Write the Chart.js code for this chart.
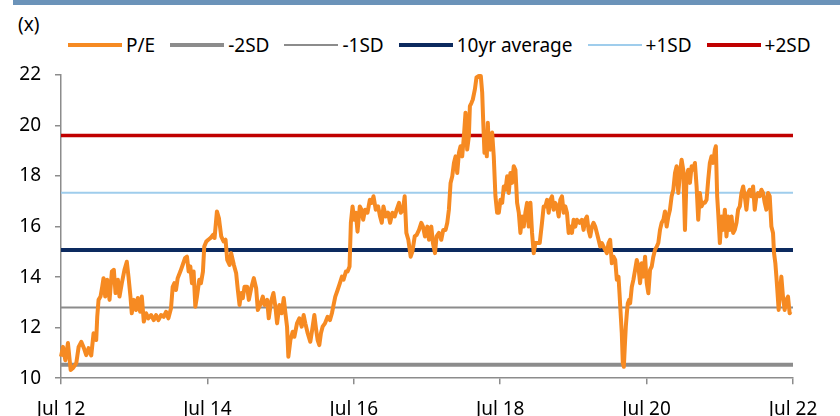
<!DOCTYPE html>
<html lang="en">
<head>
<meta charset="UTF-8">
<title>P/E band</title>
<style>
    body { margin: 0; overflow: hidden; background: #fff; font-family: "Noto Sans", sans-serif; color: #000; }
    .wrap { position: relative; width: 840px; height: 416px; overflow: hidden; }
    .topbar { position: absolute; left: 13px; top: 0; width: 827px; height: 5px; background: #6b93b9; }
    .unit { position: absolute; left: 18px; top: 11px; font-size: 19px; }
    .legend { position: absolute; left: 68px; top: 32px; display: flex; align-items: center; font-size: 19px; white-space: nowrap; }
    .legend .item { display: flex; align-items: center; margin-right: 15px; }
    .legend .swatch { width: 54px; margin-right: 4px; }
    .chartbox { position: absolute; left: 0; top: 0; width: 840px; height: 435px; }
</style>
<script src="https://cdn.jsdelivr.net/npm/chart.js"></script>
</head>
<body>
<div class="wrap">
    <div class="topbar"></div>
    <div class="unit">(x)</div>
    <div class="legend" id="legend"></div>
    <div class="chartbox"><canvas id="peChart"></canvas></div>
</div>
<script>
// P/E readings, decimal years
const peDates = [
    2012.500, 2012.527, 2012.559, 2012.595, 2012.632, 2012.663, 2012.709, 2012.741, 2012.777, 2012.813,
    2012.845, 2012.877, 2012.913, 2012.945, 2012.981, 2012.995, 2013.013, 2013.040, 2013.063, 2013.081,
    2013.104, 2013.131, 2013.163, 2013.195, 2013.222, 2013.245, 2013.277, 2013.299, 2013.331, 2013.367,
    2013.399, 2013.422, 2013.449, 2013.467, 2013.495, 2013.526, 2013.549, 2013.581, 2013.604, 2013.631,
    2013.663, 2013.694, 2013.731, 2013.767, 2013.799, 2013.831, 2013.867, 2013.903, 2013.935, 2013.967,
    2014.003, 2014.026, 2014.049, 2014.071, 2014.094, 2014.130, 2014.162, 2014.194, 2014.221, 2014.244,
    2014.267, 2014.289, 2014.312, 2014.335, 2014.357, 2014.389, 2014.412, 2014.439, 2014.457, 2014.485,
    2014.512,
    2014.544, 2014.576, 2014.598, 2014.630, 2014.657, 2014.689, 2014.721, 2014.748, 2014.771, 2014.803,
    2014.825, 2014.862, 2014.893, 2014.916, 2014.939, 2014.962, 2014.984, 2015.007, 2015.043, 2015.066,
    2015.098, 2015.134, 2015.166, 2015.189, 2015.220, 2015.257, 2015.279, 2015.316, 2015.338, 2015.370,
    2015.402, 2015.429, 2015.452, 2015.484, 2015.516, 2015.543, 2015.566, 2015.588, 2015.606, 2015.634,
    2015.665, 2015.688, 2015.724, 2015.756, 2015.788, 2015.815, 2015.838, 2015.870, 2015.906, 2015.938,
    2015.961, 2015.983, 2016.006, 2016.029, 2016.051, 2016.074, 2016.106, 2016.142, 2016.174, 2016.201,
    2016.224, 2016.247, 2016.279, 2016.310, 2016.338, 2016.360, 2016.392, 2016.415, 2016.442, 2016.460,
    2016.483,
    2016.505, 2016.528, 2016.551, 2016.582, 2016.605, 2016.628, 2016.655, 2016.687, 2016.719, 2016.746,
    2016.769, 2016.800, 2016.832, 2016.859, 2016.882, 2016.905, 2016.937, 2016.968, 2016.996, 2017.027,
    2017.059, 2017.086, 2017.118, 2017.141, 2017.173, 2017.195, 2017.218, 2017.245, 2017.277, 2017.300,
    2017.332, 2017.359, 2017.391, 2017.422, 2017.445, 2017.472, 2017.504, 2017.527, 2017.559, 2017.581,
    2017.609, 2017.631, 2017.663, 2017.695, 2017.722, 2017.754, 2017.777, 2017.799, 2017.822, 2017.845,
    2017.868, 2017.890, 2017.913, 2017.936, 2017.958, 2017.981, 2018.004, 2018.026, 2018.049, 2018.072,
    2018.086, 2018.108, 2018.126, 2018.154, 2018.176, 2018.208, 2018.235, 2018.254, 2018.267, 2018.285,
    2018.299, 2018.317, 2018.331, 2018.344, 2018.367, 2018.390, 2018.412, 2018.435, 2018.458,
    2018.481, 2018.504, 2018.527, 2018.549, 2018.572, 2018.595, 2018.617, 2018.640, 2018.663, 2018.685,
    2018.708, 2018.731, 2018.754, 2018.776, 2018.799, 2018.822, 2018.844, 2018.867, 2018.890, 2018.913,
    2018.935, 2018.958, 2018.981, 2019.003, 2019.040, 2019.071, 2019.094, 2019.117, 2019.140, 2019.162,
    2019.185, 2019.208, 2019.230, 2019.253, 2019.276, 2019.299, 2019.321, 2019.344, 2019.367, 2019.389,
    2019.412, 2019.435, 2019.458, 2019.480, 2019.503, 2019.526, 2019.548, 2019.585, 2019.616, 2019.639,
    2019.662, 2019.685, 2019.707, 2019.730, 2019.753, 2019.775, 2019.798, 2019.821, 2019.844, 2019.866,
    2019.889, 2019.912, 2019.934, 2019.957, 2019.980, 2020.002, 2020.025, 2020.048, 2020.071, 2020.093,
    2020.116, 2020.130, 2020.148, 2020.161, 2020.175, 2020.189, 2020.202, 2020.216, 2020.230, 2020.243,
    2020.261, 2020.275, 2020.298, 2020.320, 2020.343, 2020.366, 2020.388,
    2020.411, 2020.433, 2020.456, 2020.479, 2020.502, 2020.524, 2020.547, 2020.570, 2020.592, 2020.615,
    2020.638, 2020.660, 2020.683, 2020.706, 2020.729, 2020.751, 2020.774, 2020.797, 2020.819, 2020.842,
    2020.865, 2020.888, 2020.910, 2020.933, 2020.956, 2020.978, 2021.001, 2021.024, 2021.046, 2021.069,
    2021.092, 2021.115, 2021.137, 2021.160, 2021.183, 2021.205, 2021.228, 2021.251, 2021.274, 2021.296,
    2021.319, 2021.342, 2021.364, 2021.387, 2021.410, 2021.433, 2021.446, 2021.464, 2021.478, 2021.501,
    2021.523, 2021.546, 2021.569, 2021.591, 2021.614, 2021.637, 2021.660, 2021.682, 2021.705, 2021.728,
    2021.750, 2021.773, 2021.796, 2021.819, 2021.841, 2021.864, 2021.887, 2021.909, 2021.932, 2021.955,
    2021.977, 2022.000, 2022.023, 2022.046, 2022.068, 2022.091, 2022.114, 2022.136, 2022.159, 2022.182,
    2022.205, 2022.227, 2022.241, 2022.259, 2022.273, 2022.286, 2022.304, 2022.323, 2022.341, 2022.363,
    2022.386, 2022.409, 2022.432, 2022.454, 2022.468
];

const peValues = [
    10.85, 11.24, 10.71, 11.39, 10.32, 10.40, 10.60, 11.24, 11.44, 11.19,
    10.91, 11.19, 10.90, 11.78, 11.51, 12.43, 13.10, 13.23, 13.62, 13.96,
    13.23, 13.90, 13.10, 14.22, 14.29, 13.37, 13.90, 13.23, 13.76, 14.29,
    14.61, 14.02, 13.23, 12.57, 13.10, 12.70, 13.17, 12.63, 13.23, 12.24,
    12.57, 12.37, 12.50, 12.30, 12.50, 12.30, 12.50, 12.43, 12.63, 12.37,
    12.77, 13.62, 13.76, 13.49, 13.96, 14.22, 14.48, 14.75, 14.81, 14.22,
    14.42, 13.76, 14.22, 12.83, 13.23, 13.90, 13.76, 14.22, 15.21, 15.41,
    15.48,
    15.55, 15.67, 15.55, 16.60, 16.34, 15.61, 15.41, 15.48, 14.68, 14.48,
    14.95, 14.48, 14.15, 13.49, 12.90, 13.37, 13.17, 13.62, 13.62, 13.10,
    13.56, 13.96, 13.56, 12.70, 12.90, 13.23, 12.90, 13.10, 12.37, 13.03,
    13.37, 12.83, 12.17, 12.90, 12.57, 13.17, 12.57, 12.04, 10.85, 11.51,
    11.84, 11.64, 12.17, 12.37, 12.04, 12.50, 12.17, 11.78, 11.44, 12.04,
    12.50, 11.98, 11.51, 11.31, 11.78, 12.04, 12.17, 12.43, 12.30, 12.57,
    12.90, 13.23, 13.49, 13.76, 14.02, 13.90, 14.22, 14.22, 14.42, 16.15,
    16.80,
    16.27, 16.55, 15.80, 16.80, 16.67, 16.27, 16.67, 16.55, 17.06, 16.94,
    17.20, 16.67, 16.80, 16.40, 16.15, 16.80, 16.40, 16.55, 16.15, 16.55,
    16.40, 16.67, 16.94, 16.55, 16.67, 17.20, 15.75, 15.48, 14.81, 15.01,
    15.61, 15.67, 15.87, 16.15, 16.00, 15.61, 16.00, 15.48, 16.00, 15.35,
    14.95, 15.61, 15.75, 15.48, 15.87, 15.87, 16.15, 16.67, 17.73, 17.99,
    18.52, 18.78, 18.12, 18.92, 19.18, 18.78, 19.58, 20.51, 19.05, 19.58,
    20.77, 20.90, 21.03, 21.43, 21.90, 21.96, 21.96, 21.30, 20.24, 18.92,
    19.58, 18.78, 20.11, 19.18, 19.05, 19.72, 18.78, 17.20, 16.55,
    16.55, 17.06, 16.94, 17.59, 17.46, 17.99, 17.33, 18.12, 17.73, 18.39,
    18.25, 16.94, 16.55, 15.75, 16.40, 16.00, 16.55, 16.94, 16.00, 16.94,
    15.75, 14.95, 15.35, 15.35, 15.35, 16.15, 16.80, 16.80, 17.06, 16.55,
    17.06, 17.20, 16.67, 16.94, 16.80, 16.40, 17.06, 17.20, 16.55, 16.80,
    16.55, 15.75, 16.00, 15.75, 16.27, 16.00, 16.27, 16.15, 16.27, 15.87,
    16.27, 16.40, 15.87, 15.61, 16.00, 16.15, 16.00, 15.75, 15.48, 15.21,
    15.35, 15.21, 15.08, 14.95, 15.35, 15.48, 14.55, 14.81, 14.68, 13.90,
    14.02, 13.36, 12.43, 11.78, 10.60, 10.45, 11.24, 12.04, 12.57, 12.96,
    13.10, 12.96, 13.62, 13.90, 14.29, 14.68, 14.42,
    13.76, 14.55, 14.02, 14.81, 13.76, 13.36, 14.29, 14.42, 14.81, 15.08,
    15.21, 15.35, 15.87, 16.15, 16.27, 16.60, 16.00, 16.40, 16.67, 17.20,
    17.46, 18.12, 18.39, 17.33, 18.12, 18.65, 18.25, 15.87, 17.99, 18.25,
    17.73, 18.39, 18.25, 18.52, 17.59, 16.27, 17.33, 16.80, 16.94, 16.94,
    17.06, 17.86, 18.52, 18.78, 18.52, 19.05, 19.18, 17.20, 16.55, 15.35,
    16.40, 15.87, 16.67, 15.61, 16.40, 15.87, 16.40, 15.75, 15.87, 16.15,
    16.67, 16.80, 17.33, 17.59, 17.20, 16.67, 17.33, 17.46, 17.20, 17.59,
    16.67, 17.20, 17.33, 17.20, 17.46, 17.33, 16.94, 16.67, 17.33, 17.20,
    16.00, 15.75, 14.95, 14.55, 14.02, 13.49, 12.70, 13.49, 14.02, 13.23,
    12.70, 13.10, 13.23, 12.57, 12.63
];

// band levels (10yr mean and +/- standard deviations)
const bandNames = ['-2SD', '-1SD', '10yr average', '+1SD', '+2SD'];
const bandLevels = [10.53, 12.80, 15.07, 17.34, 19.61];

const xTickYears = [12, 14, 16, 18, 20, 22];
const yTicks = [10, 12, 14, 16, 18, 20, 22];

const startYear = 2012.5;   // "Jul 12"
const endYear = 2022.5;

const bandColors = ['#8c8c8c', '#8c8c8c', '#0c2a5f', '#9fcdec', '#c00000'];
const bandWidths = [4, 2, 4, 2, 3.5];

if (peDates.length !== peValues.length) {
    console.warn('length mismatch', peDates.length, peValues.length);
}

const datasets = [{
    label: 'P/E',
    data: peDates.map((d, i) => ({ x: d - startYear, y: peValues[i] })),
    borderColor: '#f68a22',
    borderWidth: 4,
    borderJoinStyle: 'round',
    pointRadius: 0,
    tension: 0,
    clip: false
}];

bandNames.forEach((name, i) => {
    datasets.push({
        label: name,
        data: [{ x: 0, y: bandLevels[i] }, { x: endYear - startYear, y: bandLevels[i] }],
        borderColor: bandColors[i],
        borderWidth: bandWidths[i],
        pointRadius: 0
    });
});

// html legend
const legendEl = document.getElementById('legend');
datasets.forEach(ds => {
    const item = document.createElement('div');
    item.className = 'item';
    item.innerHTML = '<div class="swatch" style="height:' + Math.max(ds.borderWidth, 2) +
        'px;background:' + ds.borderColor + '"></div><span>' + ds.label + '</span>';
    legendEl.appendChild(item);
});

Chart.defaults.font.family = '"Noto Sans", sans-serif';
Chart.defaults.font.size = 19;
Chart.defaults.color = '#000';

new Chart(document.getElementById('peChart'), {
    type: 'line',
    data: { datasets: datasets },
    options: {
        responsive: true,
        maintainAspectRatio: false,
        animation: false,
        layout: { padding: { top: 75, right: 47, left: 0, bottom: 0 } },
        plugins: { legend: { display: false }, tooltip: { enabled: false } },
        scales: {
            x: {
                type: 'linear',
                min: 0,
                max: endYear - startYear,
                afterBuildTicks: scale => {
                    scale.ticks = xTickYears.map(y => ({ value: y - 12 }));
                },
                ticks: {
                    padding: 14,
                    maxRotation: 0,
                    callback: v => 'Jul ' + (12 + v)
                },
                grid: { drawOnChartArea: false, tickLength: 6, color: '#8c8c8c', lineWidth: 1.5 },
                border: { color: '#8c8c8c', width: 1.5 }
            },
            y: {
                min: 10,
                max: 22,
                afterBuildTicks: scale => {
                    scale.ticks = yTicks.map(v => ({ value: v }));
                },
                afterFit: scale => { scale.width = 61; },
                ticks: { padding: 14 },
                grid: { drawOnChartArea: false, tickLength: 6, color: '#8c8c8c', lineWidth: 1.5 },
                border: { color: '#8c8c8c', width: 1.5 }
            }
        }
    }
});
</script>
</body>
</html>
